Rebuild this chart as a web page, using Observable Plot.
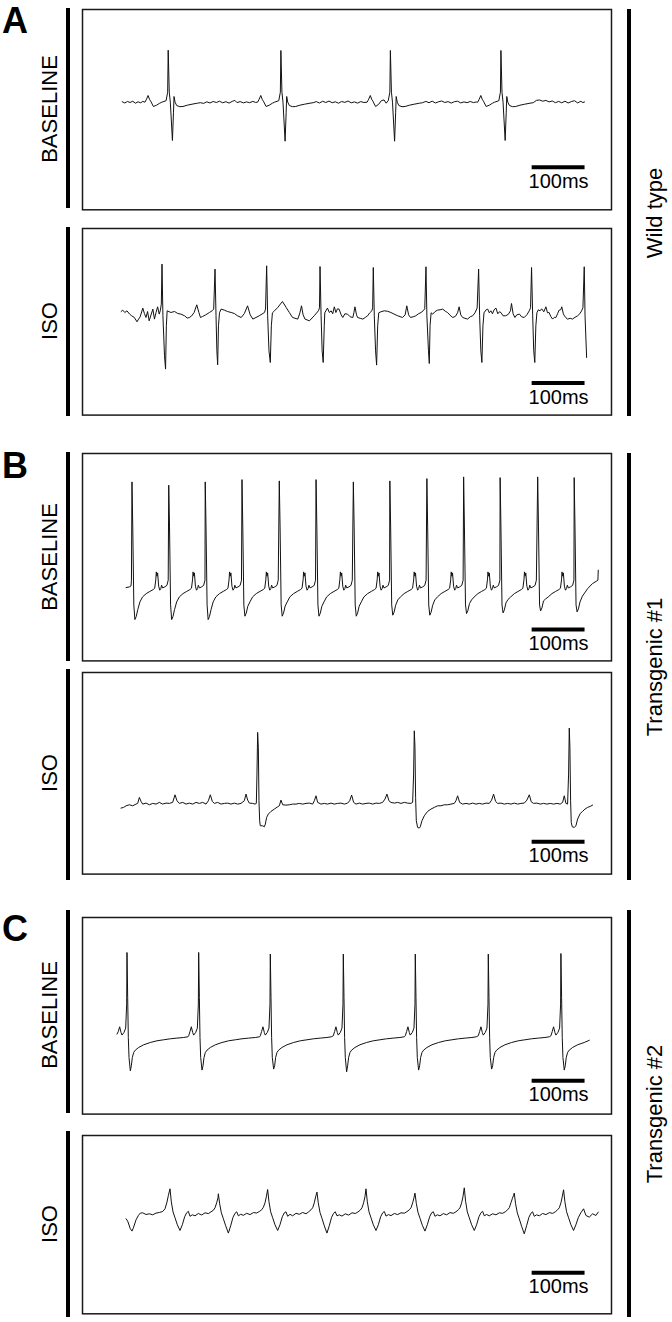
<!DOCTYPE html>
<html><head><meta charset="utf-8">
<script src="https://cdn.jsdelivr.net/npm/d3@7"></script>
<script src="https://cdn.jsdelivr.net/npm/@observablehq/plot@0.6"></script>
<style>
html,body{margin:0;padding:0;background:#fff;}
#fig{position:relative;width:672px;height:1322px;overflow:hidden;font-family:"Liberation Sans",Arial,Helvetica,sans-serif;color:#000;background:#fff;}
.bar{position:absolute;background:#000;}
.rot{position:absolute;white-space:nowrap;line-height:1.15;transform:translate(-50%,-50%) rotate(-90deg);font-size:22px;}
.letter{position:absolute;font-weight:bold;font-size:36px;line-height:1.15;}
</style></head><body><div id="fig"></div>
<script>
// ---------- labels ----------
const panelLetters = ["A", "B", "C"];
const genotypes = ["Wild type", "Transgenic #1", "Transgenic #2"];
const conditions = ["BASELINE", "ISO"];
const scaleBarMs = 100;
const scaleBarLabel = "100ms";

// ---------- traces: [time (ms), amplitude (a.u.)] ----------
const wtBase = [
[75,0.5],[80,-0.8],[85,0.7],[90,-0.3],[95,1.0],[100,-1.0],[105,0.4],[110,-0.6],[114,0.8],
[118,0],[121,3],[124,6.7],[127,2.5],[129,1],[134,-4.3],[140,-3],[146,-1],[150,0],[158,1.5],[161,10],[162,52],[164,10],[166,0],[170,-38.3],[172,-10],[173,5.7],[175,0],[178,-3.3],[184,-4.5],[190,-4.3],[198,-3],[207,-2],[217,-1],[223,-0.5],
[229,-1.2],[235,0.4],[241,-0.8],[247,0.7],[253,-0.3],[259,1.0],[265,-0.6],[271,0.5],[277,-0.9],[283,0.8],[288,1.8],[292,-0.4],[298,0.6],[304,-0.7],[310,0.3],[316,-0.5],[322,0.8],[327,-0.2],
[331,0],[334,3],[337,6.7],[340,2.5],[342,1],[347,-4.3],[353,-3],[359,-1],[363,0],[371,1.5],[374,10],[375,51.7],[377,10],[379,0],[383,-39],[385,-10],[386,5.7],[388,0],[391,-3.3],[397,-4.5],[403,-4.3],[411,-3],[420,-2],[430,-1],[436,-0.5],
[442,0.6],[448,-0.8],[454,0.9],[460,-0.3],[466,1.1],[472,-0.5],[478,0.4],[484,-1.0],[490,0.7],[496,-0.2],[502,1.2],[508,-0.6],[514,0.3],[520,-0.9],[526,0.6],[532,-0.3],
[538,0],[541,3],[544,6.7],[547,2.5],[549,1],[554,-4.3],[560,-2],[565,1.5],[570,2.3],[574,-1],[578,1.5],[581,10],[582,51.7],[584,10],[586,0],[590,-39],[592,-10],[593,5.7],[595,0],[598,-3.3],[604,-4.5],[610,-4.3],[618,-3],[627,-2],[637,-1],[643,-0.5],
[649,0.8],[655,-0.5],[661,1.0],[667,-0.8],[673,0.4],[679,1.2],[685,-0.3],[691,0.6],[697,-0.9],[703,0.5],[709,1.0],[715,-0.7],[721,0.3],[727,-0.5],[733,0.7],[739,-0.4],[744,0.2],
[747,0],[750,3],[753,6.7],[756,2.5],[758,1],[763,-4.3],[769,-3],[775,-1],[779,0],[787,1.5],[790,10],[791,51.7],[793,10],[795,0],[799,-38.3],[801,-10],[802,5.7],[804,0],[807,-3.3],[813,-4.5],[819,-4.3],[827,-3],[836,-2],[846,-1],[852,-0.5],
[858,1.8],[864,2.2],[870,1.0],[876,1.8],[882,0.3],[888,1.2],[894,-0.5],[900,0.8],[906,-0.6],[912,1.0],[918,-0.8],[924,0.6],[930,1.5],[936,-0.7],[942,0.9],[946,-0.4],[949,0.3]
];

const wtIso = [
[73,4.3],[76,5.7],[80,3.3],[84,5],[89,1.7],[93,0],[98,-1.7],[103,-6],[106,-3.3],[109,-1],[114,7.7],[117,2.3],[120,-1.7],[123,4.3],[126,-5],[130,1.7],[133,6.7],[136,-3.3],[139,3.3],[142,9],[145,1.7],[147,5],[149,11.7],[150.3,51.7],[152,0],[155,-40],[157,-53.3],[158.5,-10],[160,5],
[167,3.3],[174,4.3],[180,2.3],[186,1.7],[193,0],[198,-2.3],[202,-1.7],[206,-0.3],[211,3.3],[216,11],[220,3.3],[223,-1.7],[227,-0.7],[233,1],[240,3.3],[245,5],[248,6.7],
[250.5,46.7],[252.4,0],[254,-35],[255.5,-49],[257,-10],[259,3],
[262,6.7],[268,5.7],[274,4.3],[281,3.3],[287,2.3],[293,0],[300,-1.7],[306,2.3],[312,10],[317,1],[322,-3.3],[328,-1.7],[334,0],[341,2.3],[344,3.3],[346,6.7],
[348.1,50],[350,0],[352.5,-35],[355,-46.7],[357,-10],[359,3],
[363,5],[369,8.3],[378,14.3],[385,8.3],[391,3.3],[397,-1.7],[407,-3.3],[411,3],[414,10],[417,1],[420.6,-3.3],[429,-5],[438,0],[446,5],[448,8],
[449,49.3],[451,0],[453,-35],[455,-46.7],[457,-10],[458,3],
[463,7.7],[466.6,3.3],[470,5],[473,2],[476,9],[479,3.3],[482,7],[485,6.7],[489,1],[492,-1.7],[496,2],[501,1.7],[506,-1],[511,-1.7],[513,3],[515,9],[518,1],[520,-1.7],[525,-2.5],[530,-3.3],[535,-1.5],[539,0],[543,3],[547,5],[548.5,8],
[549.7,48.3],[551.6,0],[554,-35],[556,-49.3],[558,-10],[560,3],
[564,4],[570.5,5],[577,4.5],[583,3.3],[589,1.7],[596,0],[605,-1.7],[610,1],[613,10],[616.5,1],[620,-1.7],[625,-1],[630,0],[635,2],[640,3.3],[644,5],[647,7],
[649.3,49],[651,0],[654,-35],[655.6,-47.7],[657,-10],[659,3],
[662,1.7],[666,4],[671,5.7],[676,6],[681,6.7],[686,4.5],[690,3.3],[695,0.5],[700,-1.7],[705,-0.5],[709,3],[712,9],[715,1],[718.6,-1.7],[723,-2.5],[728,-3.3],[733,-1],[737.5,0],[742,3],[746,7.7],
[748.8,46.7],[750.7,0],[753,-35],[755,-46.7],[757,-10],[759,3],
[763,6],[766,6.7],[769,3],[772,5],[775,2],[778,6],[781.6,7.7],[785,2],[788,4],[791,3.3],[795,0],[800,0],[805,1.5],[809,5],[811,12.3],[814,2],[817.5,-1.7],[821,1],[826,1.7],[830,-1],[835,-1.7],[840,1],[844.6,5],[847,8],
[848.9,48.3],[851,0],[853,-35],[855,-46.7],[857,-10],[859,3],
[861.6,6],[865,5],[868,7],[872,4],[876,9],[879,3],[882,3.3],[885.5,-1],[888.7,-3.3],[892,-1.5],[895,-1.7],[898,2],[901,5.7],[904,6],[906,9],[909,2],[911,0],[914,-2],[917,-3.3],[922,-2.5],[926,-3.3],[931,-1.5],[936,0],[940,2],[943.5,5],[946,8],
[948.5,49],[950,0],[953,-41.7]
];

const tg1Base = [
[82.3,-0.7],[88.6,0],[91.7,1],[92.5,6.7],
[93.5,105],[95,60],[97,-18],[99,-32.7],[101.5,-29.7],[104.5,-22.7],[108.5,-15],[113.5,-10],[120.5,-6.7],[127.5,-4.5],[133.5,-2.7],[136.5,-1.3],[138.5,7],[139.5,15],[140.8,10.7],[142,14],[144,0.7],[146,-3.3],[148,-1.7],[149.5,1.7],[151.5,-1],[155.5,0],[159.5,1.5],[162,6.7],
[163,101.7],[164.5,60],[166.5,-18],[168.5,-32.7],[171,-29.7],[174,-22.7],[178,-15],[183,-10],[190,-6.7],[197,-4.5],[203,-2.7],[206,-1.3],[208,7],[209,15],[210.3,10.7],[211.5,14],[213.5,0.7],[215.5,-3.3],[217.5,-1.7],[219,1.7],[221,-1],[225,0],[229,1.5],[231.5,6.7],
[232,105],[233.5,60],[235.5,-18],[237.5,-32.7],[240,-29.7],[243,-22.7],[247,-15],[252,-10],[259,-6.7],[266,-4.5],[272,-2.7],[275,-1.3],[277,7],[278,15],[279.3,10.7],[280.5,14],[282.5,0.7],[284.5,-3.3],[286.5,-1.7],[288,1.7],[290,-1],[294,0],[298,1.5],[300.5,6.7],
[301.5,107.3],[303,60],[305,-18],[307,-29.3],[309.5,-26.3],[312.5,-19.3],[316.5,-15],[321.5,-10],[328.5,-6.7],[335.5,-4.5],[341.5,-2.7],[344.5,-1.3],[346.5,7],[347.5,15],[348.8,10.7],[350,14],[352,0.7],[354,-3.3],[356,-1.7],[357.5,1.7],[359.5,-1],[363.5,0],[367.5,1.5],[370,6.7],
[372,106],[373.5,60],[375.5,-18],[377.5,-29.3],[380,-26.3],[383,-19.3],[387,-15],[392,-10],[399,-6.7],[406,-4.5],[412,-2.7],[415,-1.3],[417,7],[418,15],[419.3,10.7],[420.5,14],[422.5,0.7],[424.5,-3.3],[426.5,-1.7],[428,1.7],[430,-1],[434,0],[438,1.5],[440.5,6.7],
[441.5,107.3],[443,60],[445,-18],[447,-29.3],[449.5,-26.3],[452.5,-19.3],[456.5,-15],[461.5,-10],[468.5,-6.7],[475.5,-4.5],[481.5,-2.7],[484.5,-1.3],[486.5,7],[487.5,15],[488.8,10.7],[490,14],[492,0.7],[494,-3.3],[496,-1.7],[497.5,1.7],[499.5,-1],[503.5,0],[507.5,1.5],[510,6.7],
[512,105],[513.5,60],[515.5,-18],[517.5,-29.3],[520,-26.3],[523,-19.3],[527,-15],[532,-10],[539,-6.7],[546,-4.5],[552,-2.7],[555,-1.3],[557,7],[558,15],[559.3,10.7],[560.5,14],[562.5,0.7],[564.5,-3.3],[566.5,-1.7],[568,1.7],[570,-1],[574,0],[578,1.5],[580.5,6.7],
[581,106],[582.5,60],[584.5,-18],[586.5,-28.3],[589,-25.3],[592,-18.3],[596,-13],[601,-10],[608,-6.7],[615,-4.5],[621,-2.7],[624,-1.3],[626,7],[627,15],[628.3,10.7],[629.5,14],[631.5,0.7],[633.5,-3.3],[635.5,-1.7],[637,1.7],[639,-1],[643,0],[647,1.5],[649.5,6.7],
[651,108.3],[652.5,60],[654.5,-18],[656.5,-28.3],[659,-25.3],[662,-18.3],[666,-13],[671,-10],[678,-6.7],[685,-4.5],[691,-2.7],[694,-1.3],[696,7],[697,15],[698.3,10.7],[699.5,14],[701.5,0.7],[703.5,-3.3],[705.5,-1.7],[707,1.7],[709,-1],[713,0],[717,1.5],[719.5,6.7],
[720.5,110],[722,60],[724,-18],[726,-26.7],[728.5,-23.7],[731.5,-16.7],[735.5,-13],[740.5,-10],[747.5,-6.7],[754.5,-4.5],[760.5,-2.7],[763.5,-1.3],[765.5,7],[766.5,15],[767.8,10.7],[769,14],[771,0.7],[773,-3.3],[775,-1.7],[776.5,1.7],[778.5,-1],[782.5,0],[786.5,1.5],[789,6.7],
[789.5,109.3],[791,60],[793,-18],[795,-26],[797.5,-23],[800.5,-16],[804.5,-12.5],[809.5,-10],[816.5,-6.7],[823.5,-4.5],[829.5,-2.7],[832.5,-1.3],[834.5,7],[835.5,15],[836.8,10.7],[838,14],[840,0.7],[842,-3.3],[844,-1.7],[845.5,1.7],[847.5,-1],[851.5,0],[855.5,1.5],[858,6.7],
[860.5,110],[862,60],[864,-18],[866,-24],[868.5,-21],[871.5,-14],[875.5,-12],[880.5,-10],[887.5,-6.7],[894.5,-4.5],[900.5,-2.7],[903.5,-1.3],[905.5,7],[906.5,15],[907.8,10.7],[909,14],[911,0.7],[913,-3.3],[915,-1.7],[916.5,1.7],[918.5,-1],[922.5,0],[926.5,1.5],[929,6.7],
[929.5,109.3],[931,60],[933,-18],[935,-25],[937.5,-22],[940.5,-15],[945,-9.3],[955,-1.7],[964,3.3],[972.4,6],[974.3,6.7],[975,16.7]
];

const tg1Iso = [
[72.8,-4],[77.8,-3.3],[82.3,-1.7],[88.6,-0.7],[94.9,-1.7],[101.2,0],[104.3,0.7],[107.5,6.7],[110.6,2.7],[113.8,0],[120.1,1],[126.4,-0.7],[132.7,0.7],[139,0],[145.3,1.7],[151.6,0],[157.9,1],[164.2,0.7],[170.5,1.7],[174.9,9.3],[178.6,3.3],[183.1,0.7],[189.4,1.7],[195.7,0],[202,1],[208.3,0],[214.6,1.7],[220.9,0.7],[227.2,1.7],[233.5,0],[237.9,3.3],[241.6,9.3],[245.4,2.7],[249.2,0.7],[255.5,1.7],[261.8,0],[268.1,0.7],[274.4,1],[280.7,0],[287,1],[293.3,0],[299.6,0.7],[305.9,3.3],[309.1,10],[312.2,4],[315.4,1],[321.7,0.7],[326.1,0],[328.6,0.7],
[329.8,30],[331.1,71.7],[332.4,56.7],[333.6,3.3],[334.9,-16.7],[336.1,-21.7],[340.6,-21.7],[343.7,-22.7],[345.6,-20],[348.1,-13.3],[351.3,-10],[356.3,-7.3],[362.6,-5],[368.9,-2.7],[372.1,-1.7],[375.2,4],[378.4,-0.7],[384.7,-1],[391,-0.7],[397.3,0],[403.6,0],[409.9,0.7],[416.2,0],[422.5,0.7],[428.8,1],[435.1,0],[438.2,3.3],[441.4,8.3],[444.5,1.7],[450.8,0],[457.1,0.7],[463.4,0],[469.7,1],[476,0],[482.3,0.7],[488.6,1],[494.9,0],[501.2,1],[505,3.3],[508.8,9],[512.5,1.7],[517,0],[523.3,1],[529.6,0],[535.9,0.7],[542.2,1],[548.5,0],[554.8,1],[561.1,0.7],[567.4,1.7],[571.8,5],[575.5,10],[579.3,3.3],[583.1,1.7],[589.4,1],[595.7,1.7],[602,0.7],[608.3,1.7],[614.6,1],[620.9,0.7],[624.1,1.7],
[625.9,30],[627.2,73.3],[628.5,56.7],[629.7,6.7],[631,-16.7],[633.5,-23.3],[636.7,-24],[638.5,-22.7],[641.7,-16.7],[646.1,-11.7],[652.4,-7.3],[658.7,-5],[665,-3.3],[671.3,-1.7],[677.6,-1.7],[683.9,-0.7],[690.2,-0.7],[696.5,0],[702.8,0.7],[705.9,3.3],[709.1,8.3],[712.9,1.7],[718.6,0],[724.9,0.7],[731.2,0],[737.5,1],[743.8,0],[750.1,0.7],[756.4,0],[762.7,1],[769,0.7],[773.4,4],[777.1,10],[780.9,2.7],[784.7,0.7],[791,1],[797.3,0],[803.6,0.7],[809.9,0],[816.2,1],[822.5,0],[828.8,0.7],[835.1,1],[840.1,4],[844.6,9.3],[848.3,2.3],[852.7,0.7],[859,1],[865.3,0],[871.6,0.7],[877.9,0],[884.2,0.7],[890.5,0],[896.8,0.7],[903.1,0],[907.6,1.7],[910.7,8.3],[913.9,0.7],[917,0],
[918.9,30],[920.2,76],[921.4,56.7],[922.7,3.3],[923.9,-18.3],[925.8,-22.7],[929.6,-23.3],[932.8,-21.7],[935.9,-15],[941,-9.3],[945.4,-7.3],[949.8,-5],[954.8,-3.3],[959.8,-2.3],[964.3,-1]
];

const tg2Base = [
[65.2,1.7],[67.7,4.3],[70.2,9],[72.8,3.3],[74.6,0.7],[78.4,3.3],[81.6,7.7],[83.5,31.7],[84.1,83.3],[85.4,38.3],[86.6,-1.7],[87.9,-21.7],[90.4,-35],[92.3,-30],[94.2,-21.7],[96.7,-16.7],[99.9,-14.3],[106.1,-11.7],[115.6,-9],[128.2,-6.7],[140.8,-5],[153.4,-4],[166,-3],[178.6,-2.3],[191.2,-1.7],[199.4,-1],
[200.7,0],[203.2,4.3],[205.7,9],[208.3,3.3],[210.1,0.7],[213.9,3.3],[217.1,7.7],[219,31.7],[219.6,83.3],[220.9,38.3],[222.1,-1.7],[223.4,-21.7],[225.9,-34.3],[227.8,-30],[229.7,-21.7],[232.2,-16.7],[235.4,-14.3],[241.6,-11.7],[251.1,-9],[263.7,-6.7],[276.3,-5],[288.9,-4],[301.5,-3],[314.1,-2.3],[326.7,-1.7],[334.9,-1],
[336.1,0],[338.6,4.3],[341.1,9],[343.7,3.3],[345.5,0.7],[349.3,3.3],[352.5,7.7],[354.4,31.7],[355,81.7],[356.3,38.3],[357.5,-1.7],[358.8,-21.7],[361.3,-33.3],[363.2,-30],[365.1,-21.7],[367.6,-16.7],[370.8,-14.3],[377,-11.7],[386.5,-9],[399.1,-6.7],[411.7,-5],[424.3,-4],[436.9,-3],[449.5,-2.3],[462.1,-1.7],[470.3,-1],
[474.1,0],[476.6,4.3],[479.1,9],[481.7,3.3],[483.5,0.7],[487.3,3.3],[490.5,7.7],[492.4,31.7],[493,81.7],[494.3,38.3],[495.5,-1.7],[496.8,-21.7],[499.3,-36],[501.2,-30],[503.1,-21.7],[505.6,-16.7],[508.8,-14.3],[515,-11.7],[524.5,-9],[537.1,-6.7],[549.7,-5],[562.3,-4],[574.9,-3],[587.5,-2.3],[600.1,-1.7],[608.3,-1],
[610.2,0],[612.7,4.3],[615.2,9],[617.8,3.3],[619.6,0.7],[623.4,3.3],[626.6,7.7],[628.5,31.7],[629.1,81.7],[630.4,38.3],[631.6,-1.7],[632.9,-21.7],[635.4,-34.3],[637.3,-30],[639.2,-21.7],[641.7,-16.7],[644.9,-14.3],[651.1,-11.7],[660.6,-9],[673.2,-6.7],[685.8,-5],[698.4,-4],[711,-3],[723.6,-2.3],[736.2,-1.7],[744.4,-1],
[748.2,0],[750.7,4.3],[753.2,9],[755.8,3.3],[757.6,0.7],[761.4,3.3],[764.6,7.7],[766.5,31.7],[767.1,81.7],[768.4,38.3],[769.6,-1.7],[770.9,-21.7],[773.4,-33.3],[775.3,-30],[777.2,-21.7],[779.7,-16.7],[782.9,-14.3],[789.1,-11.7],[798.6,-9],[811.2,-6.7],[823.8,-5],[836.4,-4],[849,-3],[861.6,-2.3],[874.2,-1.7],[882.4,-1],
[885.5,0],[888,4.3],[890.5,9],[893.1,3.3],[894.9,0.7],[898.7,3.3],[901.9,7.7],[903.8,31.7],[904.4,82.3],[905.7,38.3],[906.9,-1.7],[908.2,-21.7],[910.7,-34.3],[912.6,-30],[914.5,-21.7],[917,-16.7],[920.2,-14.3],[926.4,-11.7],[935.9,-9],[948.5,-6.7],[958,-4.5]
];

const tg2Iso = [
[82.3,-5],[85.4,-7.3],[90.4,-15],[93.6,-17.3],[96.7,-13.3],[101.2,-6],[105.6,-1.7],[109.3,0.7],[113.8,1],[120,-0.7],[126.4,0],[132.7,-1],[139,0.7],[145.3,1.3],[151.6,2.3],[156,5],[159.7,11.7],[162.3,18.3],
[165.4,25],[167.9,12],[171.1,2],[174.9,-4],[179.3,-11],[184.3,-16.7],[188.7,-11],[193.1,-3],[196.9,1],[200.1,2.5],[203.2,-2.5],[207.6,-1],[212.7,-2],[219,0.3],[225.3,-1.2],[231.6,1],[237.9,0.2],[242.9,2],[247.3,3.5],[250.5,6],[253.6,11],[256.1,16],
[256.8,20],[259.3,10],[262.5,1],[266.3,-5],[270.7,-12],[275.7,-19.3],[280.1,-12],[284.5,-3.5],[288.3,0.5],[291.5,2],[294.6,-2],[299,-0.5],[304.1,-1.5],[310.4,0.5],[316.7,-0.8],[323,1.2],[329.3,0.8],[334.3,2.3],[338.7,4],[341.9,6.5],[345,11],[347.5,17],
[350,24.3],[352.5,12],[355.7,2],[359.5,-4],[363.9,-11],[368.9,-16.7],[373.3,-11],[377.7,-3],[381.5,1],[384.7,2],[387.8,-2.5],[392.2,-0.5],[397.3,-2],[403.6,0.5],[409.9,-0.5],[416.2,1.3],[422.5,0],[427.5,2],[431.9,4],[435.1,6],[438.2,11],[440.7,17],
[443.2,21.7],[445.7,11],[448.9,1.5],[452.7,-4.5],[457.1,-12],[462.1,-19.3],[466.5,-12],[470.9,-3.5],[474.7,0.5],[477.9,2],[481,-2],[485.4,-1],[490.5,-2.3],[496.8,0],[503.1,-1.3],[509.4,1],[515.7,0.3],[520.7,1.8],[525.1,3.7],[528.3,6],[531.4,11],[533.9,17],
[535.9,25],[538.4,12],[541.6,2],[545.4,-4],[549.8,-11],[554.8,-16.7],[559.2,-11],[563.6,-3],[567.4,1],[570.6,2.3],[573.7,-2.3],[578.1,-0.8],[583.2,-1.8],[589.5,0.3],[595.8,-0.8],[602.1,1],[608.4,0.6],[613.4,2.2],[617.8,4],[621,6],[624.1,11],[626.6,16],
[628.5,20.7],[631,10.5],[634.2,1.5],[638,-4.5],[642.4,-11.5],[647.4,-17.3],[651.8,-11],[656.2,-3],[660,1],[663.2,2],[666.3,-2.5],[670.7,-1],[675.8,-2],[682.1,0.2],[688.4,-1],[694.7,1.2],[701,0.5],[706,2],[710.4,4],[713.6,6],[716.7,11],[719.2,17],
[721.7,26],[724.2,12.5],[727.4,2],[731.2,-4],[735.6,-11],[740.6,-16.7],[745,-11],[749.4,-3],[753.2,1],[756.4,2.5],[759.5,-2],[763.9,-0.7],[769,-2],[775.3,0],[781.6,-1],[787.9,1],[794.2,0.5],[799.2,2],[803.6,4],[806.8,6],[809.9,11],[812.4,15],[814.5,18],
[816.2,20.7],[818.7,10],[821.9,1],[825.7,-5],[830.1,-12.5],[835.1,-20],[839.5,-12],[843.9,-3.5],[847.7,0.5],[850.9,2],[854,-2.5],[858.4,-1],[863.5,-2],[869.8,0.3],[876.1,-0.8],[882.4,1.2],[888.7,0.4],[893.7,2],[898.1,4],[901.3,6],[904.4,11],[906.9,17],
[909.4,24],[911.9,12],[915.1,2],[918.9,-4],[923.3,-11],[928.3,-16.7],[932.7,-11],[937.1,-4],[942,1],[947.2,5],[951.7,-1.7],[958,-3.3],[964.3,0],[970.6,-1.7],[975,1.7]
];

// ---------- layout (page px) ----------
const FONT = '"Liberation Sans", Arial, Helvetica, sans-serif';
const BOX_LEFT = 82, BOX_RIGHT = 611;
const scaleBarStart = 850;
const rows = [
  {data: wtBase,  top: 9,     bottom: 209.3,  base: 101.7,  barY: 166.7,  side: [8, 208]},
  {data: wtIso,   top: 227.7, bottom: 414.3,  base: 315,    barY: 382.3,  side: [227, 416]},
  {data: tg1Base, top: 453.3, bottom: 660.7,  base: 586.7,  barY: 629.3,  side: [452, 661]},
  {data: tg1Iso,  top: 671.7, bottom: 873.3,  base: 803.3,  barY: 841,    side: [669, 880]},
  {data: tg2Base, top: 916.7, bottom: 1113.3, base: 1035,   barY: 1080,   side: [910, 1113]},
  {data: tg2Iso,  top: 1135,  bottom: 1313.3, base: 1213.3, barY: 1272.3, side: [1131, 1317]}
];
const groupBars = [[9, 416], [453, 880], [910, 1317]];
const letterTops = [0, 445, 908];

const fig = document.getElementById("fig");
function div(cls, css, text) {
  const d = document.createElement("div");
  d.className = cls;
  Object.assign(d.style, css);
  if (text != null) d.textContent = text;
  fig.appendChild(d);
  return d;
}

rows.forEach((r, i) => {
  const H = r.bottom - r.top;
  const W = BOX_RIGHT - BOX_LEFT;
  const barV = r.base - r.barY;
  const svg = Plot.plot({
    width: W + 2, height: H + 2, margin: 1,
    x: {domain: [0, 1000], axis: null},
    y: {domain: [r.base - r.bottom, r.base - r.top], axis: null},
    style: {background: "transparent", fontFamily: FONT, overflow: "visible"},
    marks: [
      Plot.frame({stroke: "#1a1a1a", strokeWidth: 1.5}),
      Plot.line(r.data, {x: d => d[0], y: d => d[1], stroke: "#111", strokeWidth: 1}),
      Plot.ruleY([{v: barV}], {y: "v", x1: scaleBarStart, x2: scaleBarStart + scaleBarMs, stroke: "#000", strokeWidth: 4}),
      Plot.text([{v: barV}], {y: "v", x: scaleBarStart + scaleBarMs / 2, text: () => scaleBarLabel, dy: 14, fontSize: 20, fill: "#000"})
    ]
  });
  Object.assign(svg.style, {position: "absolute", left: (BOX_LEFT - 1) + "px", top: (r.top - 1) + "px"});
  fig.appendChild(svg);
  div("bar", {left: "65.5px", width: "4px", top: r.side[0] + "px", height: (r.side[1] - r.side[0]) + "px"});
  div("rot", {left: "50px", top: ((r.top + r.bottom) / 2) + "px"}, conditions[i % 2]);
});

groupBars.forEach((g, i) => {
  div("bar", {left: "627px", width: "4px", top: g[0] + "px", height: (g[1] - g[0]) + "px"});
  div("rot", {left: "655px", top: ((g[0] + g[1]) / 2) + "px"}, genotypes[i]);
  div("letter", {left: "2px", top: letterTops[i] + "px"}, panelLetters[i]);
});
</script></body></html>
